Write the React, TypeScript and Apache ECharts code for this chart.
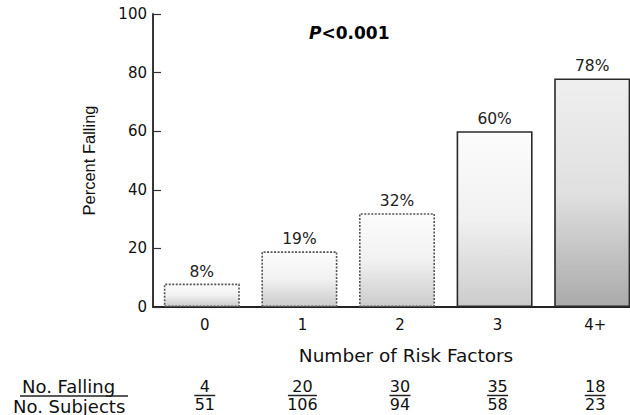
import React, { useEffect, useRef } from "react";
import * as echarts from "echarts";

const categories = ["0", "1", "2", "3", "4+"];
const percentFalling = [8, 19, 32, 60, 78];
const noFalling = [4, 20, 30, 35, 18];
const noSubjects = [51, 106, 94, 58, 23];
const yTicks = { min: 0, max: 100, interval: 20 };

const FONT = "'DejaVu Sans', Verdana, sans-serif";
const FONT_NARROW = "'Liberation Sans', Arial, Helvetica, sans-serif";

function barStyle(i: number) {
  const dark = i === 4;
  const dotted = i < 3;
  return {
    color: new echarts.graphic.LinearGradient(0, 0, 0, 1, [
      { offset: 0, color: dark ? "#efefef" : "#fcfcfc" },
      { offset: 0.5, color: dark ? "#e0e0e0" : "#f1f1f1" },
      { offset: 1, color: dark ? "#aaaaaa" : "#cccccc" },
    ]),
    borderColor: dotted ? "#555" : "#2a2a2a",
    borderWidth: 1.6,
    borderType: dotted ? ([2, 1.5] as any) : "solid",
  };
}

export default function App() {
  const ref = useRef<HTMLDivElement>(null);
  useEffect(() => {
    if (!ref.current) return;
    const chart = echarts.init(ref.current, undefined, { renderer: "svg" });
    chart.setOption({
      animation: false,
      backgroundColor: "#ffffff",
      textStyle: { fontFamily: FONT },
      title: {
        text: "{i|P}{b|<0.001}",
        left: 304,
        top: 19,
        textStyle: {
          rich: {
            i: { fontSize: 17, fontWeight: "bold", fontStyle: "italic", fontFamily: FONT, color: "#000" },
            b: { fontSize: 17, fontWeight: "bold", fontFamily: FONT, color: "#000" },
          },
        },
      },
      grid: { left: 153, top: 14, width: 488, height: 293, containLabel: false },
      xAxis: [
        {
          type: "category",
          data: categories,
          axisLine: { lineStyle: { color: "#222", width: 1.8 } },
          axisTick: { show: false },
          axisLabel: { fontSize: 15, color: "#111", margin: 10, fontFamily: FONT, padding: [0, 0, 0, 6] },
          name: "Number of Risk Factors",
          nameLocation: "middle",
          nameGap: 39,
          nameTextStyle: { fontSize: 18.5, color: "#111", fontFamily: FONT, padding: [0, 0, 0, 18] },
        },
        {
          type: "category",
          data: categories,
          position: "bottom",
          axisLine: { show: false },
          axisTick: { show: false },
          axisLabel: {
            margin: 71,
            padding: [0, 0, 0, 6],
            formatter: (_v: string, idx: number) => {
              const n = String(noFalling[idx]);
              const d = String(noSubjects[idx]);
              const len = Math.max(n.length, d.length);
              return `{n|${n}}\n{l${len}|}\n{d|${d}}`;
            },
            rich: {
              n: { fontSize: 16, lineHeight: 16, color: "#111", fontFamily: FONT, align: "center" },
              l1: { width: 12, height: 1.5, lineHeight: 3, backgroundColor: "#222" },
              l2: { width: 21, height: 1.5, lineHeight: 3, backgroundColor: "#222" },
              l3: { width: 29, height: 1.5, lineHeight: 3, backgroundColor: "#222" },
              d: { fontSize: 16, lineHeight: 15, color: "#111", fontFamily: FONT, align: "center" },
            },
          },
        },
      ],
      yAxis: {
        type: "value",
        min: yTicks.min,
        max: yTicks.max,
        interval: yTicks.interval,
        splitLine: { show: false },
        axisLine: { show: true, lineStyle: { color: "#222", width: 1.8 } },
        axisTick: { show: true, inside: true, length: 8, lineStyle: { color: "#333", width: 1.2 } },
        axisLabel: { fontSize: 15, color: "#111", margin: 6, fontFamily: FONT },
        name: "Percent Falling",
        nameLocation: "middle",
        nameGap: 56,
        nameTextStyle: { fontSize: 16.5, color: "#111", fontFamily: FONT_NARROW },
      },
      series: [
        {
          type: "bar",
          xAxisIndex: 0,
          barWidth: 76,
          data: percentFalling.map((v, i) => ({ value: v, itemStyle: barStyle(i) })),
          label: {
            show: true,
            position: "top",
            distance: 4,
            formatter: "{c}%",
            fontSize: 15.5,
            color: "#222",
            fontFamily: FONT,
          },
        },
      ],
      graphic: [
        {
          type: "text",
          left: 22,
          top: 377,
          style: { text: "No. Falling", fontSize: 18, lineHeight: 18, fill: "#111", fontFamily: FONT },
        },
        {
          type: "line",
          shape: { x1: 20, y1: 396, x2: 128, y2: 396 },
          style: { stroke: "#222", lineWidth: 1.5 },
        },
        {
          type: "text",
          left: 13,
          top: 397,
          style: { text: "No. Subjects", fontSize: 18, lineHeight: 18, fill: "#111", fontFamily: FONT },
        },
      ],
    });
    return () => chart.dispose();
  }, []);
  return (
    <div style={{ position: "fixed", left: 0, top: 0, width: 630, height: 415, overflow: "hidden" }}>
      <div ref={ref} style={{ width: 660, height: 415 }} />
    </div>
  );
}
